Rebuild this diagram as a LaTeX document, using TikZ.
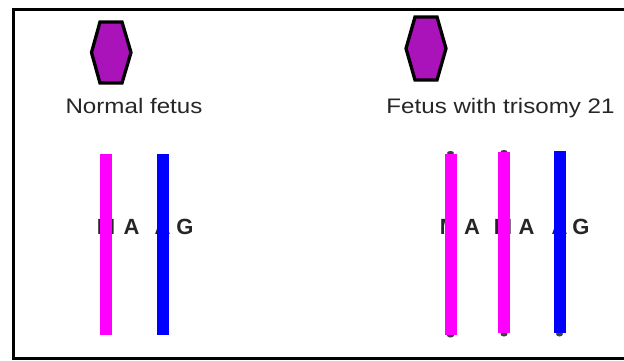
\documentclass[tikz,border=0pt]{standalone}
\usepackage{fontspec}
\usepackage{graphicx}
\setmainfont{Liberation Sans}
\definecolor{hexfill}{RGB}{170,18,186}
\definecolor{pinkline}{RGB}{255,0,255}
\definecolor{blueline}{RGB}{0,0,255}
\tikzset{
  hexa/.style={draw=black, line width=3.3pt, fill=hexfill, line join=miter},
  chromo/.style={line width=12pt},
  title/.style={anchor=base, inner sep=0pt, font=\fontsize{21}{25}\selectfont, text=black!85},
  allele/.style={anchor=base, inner sep=0pt, font=\fontsize{22}{26}\selectfont\bfseries, text=black!85},
  blob/.style={fill=black!75, draw=none}
}
\begin{document}
\begin{tikzpicture}[x=1pt,y=-1pt]
\useasboundingbox (0,0) rectangle (624,360);
\fill[white] (0,0) rectangle (624,360);
\begin{scope}
\clip (0,0) rectangle (624,360);
\draw[line width=3pt] (13,9) rectangle (640,358);
\end{scope}
% hexagons
\draw[hexa] (100,22) -- (122,22) -- (131,52.5) -- (122,83) -- (100,83) -- (91.5,52.5) -- cycle;
\draw[hexa] (415,17) -- (437,17) -- (446,48.5) -- (437,80) -- (415,80) -- (406,48.5) -- cycle;
% titles
\node[title] (t1) at (134,113) {\scalebox{1.15}[1]{Normal fetus}};
\node[title] (t2) at (500.5,113) {\scalebox{1.15}[1]{Fetus with trisomy 21}};
% alleles (behind lines)
\node[allele] (m1) at (106,234) {M};
\node[allele] (a1) at (131.5,234) {A};
\node[allele] (a2) at (162.5,234) {A};
\node[allele] (g1) at (185,234) {G};
\node[allele] (m2) at (449,234) {M};
\node[allele] (a3) at (472,234) {A};
\node[allele] (m3) at (503,234) {M};
\node[allele] (a4) at (526.5,234) {A};
\node[allele] (a5) at (559.5,234) {A};
\node[allele] (g2) at (581,234) {G};
% small end blobs
\fill[blob] (450.5,153) ellipse (3.5 and 2);
\fill[blob] (504,152) ellipse (3.5 and 2);
\fill[blob] (450.5,335.5) ellipse (3.5 and 2);
\fill[blob] (504,334) ellipse (3.5 and 2.5);
\fill[blob] (559.5,334) ellipse (3.5 and 2.5);
% chromosomes
\draw[chromo, pinkline] (106,154) -- (106,335);
\draw[chromo, blueline] (162.5,154) -- (162.5,335);
\draw[chromo, pinkline] (450.5,153.5) -- (450.5,335);
\draw[chromo, pinkline] (504,152) -- (504,333);
\draw[chromo, blueline] (559.5,151) -- (559.5,333);
\end{tikzpicture}
\end{document}
